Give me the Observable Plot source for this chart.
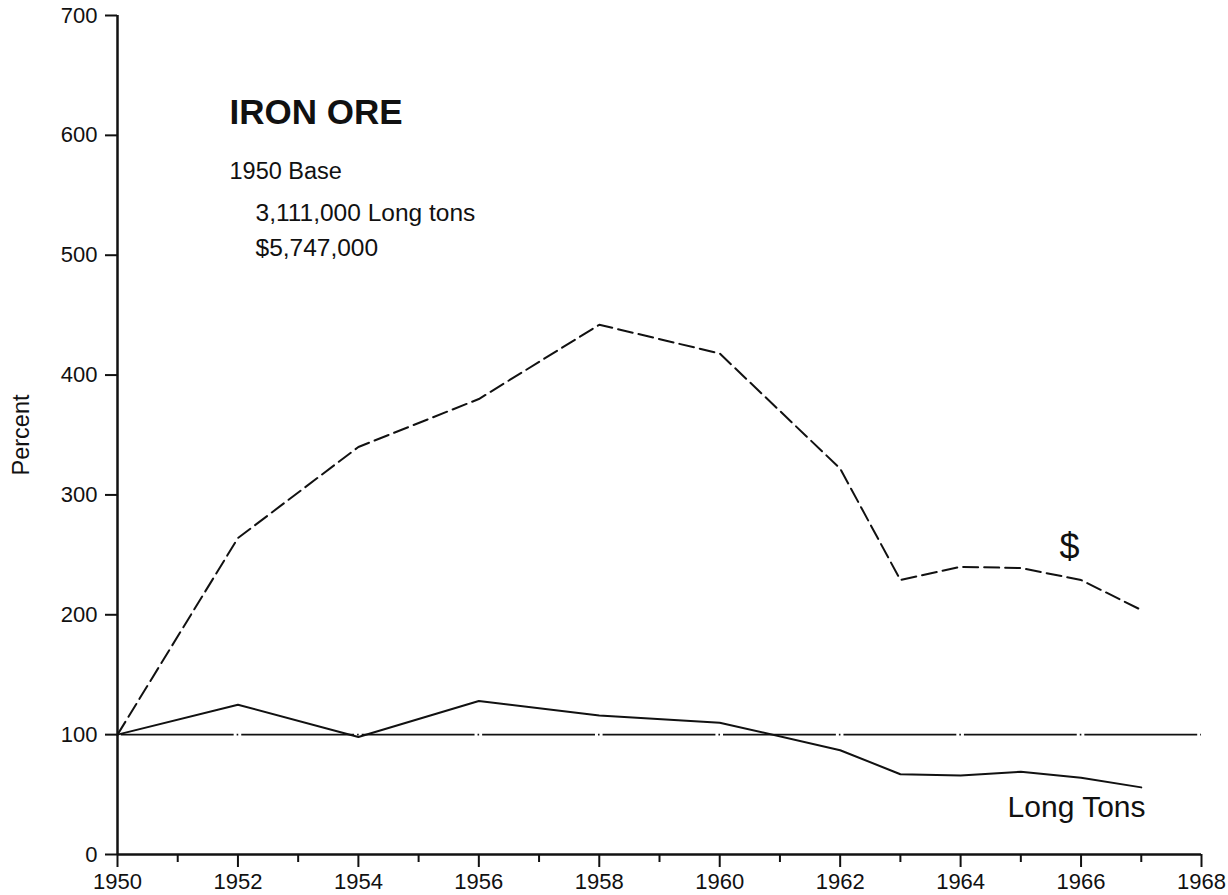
<!DOCTYPE html>
<html>
<head>
<meta charset="utf-8">
<script src="https://cdn.jsdelivr.net/npm/d3@7"></script>
<script src="https://cdn.jsdelivr.net/npm/@observablehq/plot@0.6"></script>
<style>
  html, body { margin: 0; padding: 0; background: #fff; }
  #chart svg { display: block; }
</style>
</head>
<body>
<div id="chart"></div>
<script>
// ---- Data (index, 1950 = 100) ----
const years = [1950, 1952, 1954, 1956, 1958, 1960, 1962, 1963, 1964, 1965, 1966, 1967];
const dollarIndex = [100, 264, 340, 380, 442, 418, 322, 229, 240, 239, 229, 204];
const longTonsIndex = [100, 125, 98, 128, 116, 110, 87, 67, 66, 69, 64, 56];
const baseValue = [100];

// ---- Ticks and labels ----
const yTicks = [0, 100, 200, 300, 400, 500, 600, 700];
const xMajorTicks = [1950, 1952, 1954, 1956, 1958, 1960, 1962, 1964, 1966, 1968];
const xMinorTicks = [1951, 1953, 1955, 1957, 1959, 1961, 1963, 1965, 1967];
const yLabel = ["Percent"];
const title = ["IRON ORE"];
const baseHeading = ["1950 Base"];
const baseTons = ["3,111,000 Long tons"];
const baseDollars = ["$5,747,000"];
const dollarLabel = ["$"];
const tonsLabel = ["Long Tons"];

const rows = years.map((yr, i) => ({year: yr, dollars: dollarIndex[i], tons: longTonsIndex[i]}));

const W = 1228, H = 895;
const mL = 117, mR = 27, mT = 15, mB = 41;
const ink = "#111";
const font = "'Liberation Sans', Arial, sans-serif";

// dash-dot pattern for the 100 baseline: one long dash per two years, dot on even years
const twoYears = (W - mL - mR) / 18 * 2;
const gap = 3, dot = 1.6;
const baseDash = `${twoYears - 2 * gap - dot},${gap},${dot},${gap}`;

const chart = Plot.plot({
  width: W,
  height: H,
  marginLeft: mL,
  marginRight: mR,
  marginTop: mT,
  marginBottom: mB,
  style: {fontFamily: font, fontSize: "22px", color: ink, background: "#fff"},
  x: {domain: [1950, 1968]},
  y: {domain: [0, 700]},
  marks: [
    Plot.ruleY(baseValue, {stroke: ink, strokeWidth: 1.6, strokeDasharray: baseDash, strokeDashoffset: -(gap + dot / 2)}),
    Plot.line(rows, {x: "year", y: "dollars", stroke: ink, strokeWidth: 2, strokeDasharray: "15,6"}),
    Plot.line(rows, {x: "year", y: "tons", stroke: ink, strokeWidth: 2}),
    Plot.ruleX([1950], {stroke: ink, strokeWidth: 2.5}),
    Plot.ruleY([0], {stroke: ink, strokeWidth: 2.5}),
    Plot.axisY({ticks: yTicks, tickSize: 12, tickPadding: 8, tickFormat: d => String(d), label: null, color: ink, strokeWidth: 2, fontSize: 22}),
    Plot.axisX({ticks: xMinorTicks, tickSize: 8, tickFormat: () => "", label: null, color: ink, strokeWidth: 2}),
    Plot.axisX({ticks: xMajorTicks, tickSize: 13, tickPadding: 6, tickFormat: d => String(d), label: null, color: ink, strokeWidth: 2, fontSize: 22}),
    Plot.text(yLabel, {text: d => d, frameAnchor: "left", textAnchor: "middle", rotate: -90, dx: -96, lineAnchor: "middle", fontSize: 23.5, fill: ink}),
    Plot.text(title, {text: d => d, frameAnchor: "top-left", textAnchor: "start", lineAnchor: "bottom", dx: 112, dy: 108, fontSize: 35, fontWeight: "bold", fill: ink}),
    Plot.text(baseHeading, {text: d => d, frameAnchor: "top-left", textAnchor: "start", lineAnchor: "bottom", dx: 112, dy: 163, fontSize: 23.5, fill: ink}),
    Plot.text(baseTons, {text: d => d, frameAnchor: "top-left", textAnchor: "start", lineAnchor: "bottom", dx: 138, dy: 205, fontSize: 24.5, fill: ink}),
    Plot.text(baseDollars, {text: d => d, frameAnchor: "top-left", textAnchor: "start", lineAnchor: "bottom", dx: 138, dy: 240, fontSize: 24.5, fill: ink}),
    Plot.text(dollarLabel, {text: d => d, frameAnchor: "top-left", textAnchor: "middle", lineAnchor: "bottom", dx: 952, dy: 543, fontSize: 36, fill: ink}),
    Plot.text(tonsLabel, {text: d => d, frameAnchor: "top-left", textAnchor: "end", lineAnchor: "bottom", dx: 1028, dy: 801, fontSize: 30, fill: ink})
  ]
});

document.getElementById("chart").append(chart);
</script>
</body>
</html>
